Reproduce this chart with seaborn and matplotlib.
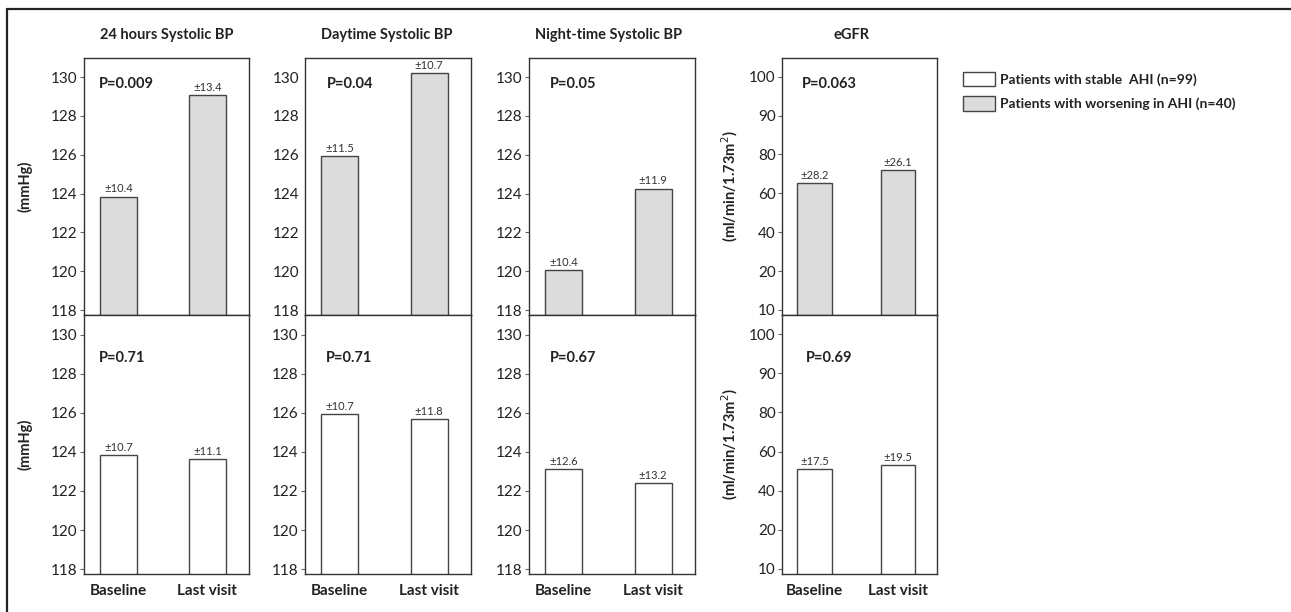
import numpy as np
import pandas as pd
import matplotlib
matplotlib.use("Agg")
import matplotlib.pyplot as plt
from matplotlib.patches import Patch
from matplotlib.lines import Line2D
import seaborn as sns

sns.set_style("white")
plt.rcParams['font.family'] = ['Lato', 'DejaVu Sans']

# ---------------- data ----------------
categories = ['Baseline', 'Last visit']
panel_titles = ['24 hours Systolic BP', 'Daytime Systolic BP', 'Night-time Systolic BP', 'eGFR']

worse_24h = [123.85, 129.1]
worse_day = [125.95, 130.2]
worse_night = [120.08, 124.26]
worse_egfr = [65.1, 71.8]
worse_sd_24h = [10.4, 13.4]
worse_sd_day = [11.5, 10.7]
worse_sd_night = [10.4, 11.9]
worse_sd_egfr = [28.2, 26.1]
worse_p = ['P=0.009', 'P=0.04', 'P=0.05', 'P=0.063']

stable_24h = [123.85, 123.64]
stable_day = [125.92, 125.68]
stable_night = [123.1, 122.4]
stable_egfr = [51.0, 53.3]
stable_sd_24h = [10.7, 11.1]
stable_sd_day = [10.7, 11.8]
stable_sd_night = [12.6, 13.2]
stable_sd_egfr = [17.5, 19.5]
stable_p = ['P=0.71', 'P=0.71', 'P=0.67', 'P=0.69']

bp_ticks = [118, 120, 122, 124, 126, 128, 130]
egfr_ticks = [10, 20, 40, 60, 80, 90, 100]

legend_labels = ['Patients with stable  AHI (n=99)', 'Patients with worsening in AHI (n=40)']
ylabel_bp = '(mmHg)'
ylabel_egfr = '(ml/min/1.73m$^{2}$)'

# ---------------- style ----------------
GRAY = '#dcdcdc'
EDGE = '#444444'
TXT = '#222222'

W, H = 1291, 612
fig = plt.figure(figsize=(W / 100, H / 100), dpi=100)

col_left = [84, 305, 529, 782]
col_width = [165, 166, 166, 155]
row_top = [57.7, 315]
row_bot = [315, 574]

worse_vals = [worse_24h, worse_day, worse_night, worse_egfr]
worse_sds = [worse_sd_24h, worse_sd_day, worse_sd_night, worse_sd_egfr]
stable_vals = [stable_24h, stable_day, stable_night, stable_egfr]
stable_sds = [stable_sd_24h, stable_sd_day, stable_sd_night, stable_sd_egfr]

# piecewise scale for eGFR (evenly spaced labelled ticks)
e_vals = np.array([0, 10, 20, 40, 60, 80, 90, 100, 110], dtype=float)
e_pos = np.array([-1, 0, 1, 2, 3, 4, 5, 6, 7], dtype=float)

def fwd(v):
    return np.interp(v, e_vals, e_pos)

def inv(p):
    return np.interp(p, e_pos, e_vals)

p_x_top = [0.09, 0.13, 0.125, 0.13]
p_x_bot = [0.093, 0.127, 0.125, 0.157]
title_x = [0.5, 0.49, 0.48, 0.45]

for r in range(2):
    for c in range(4):
        left = col_left[c] / W
        width = col_width[c] / W
        bottom = 1 - row_bot[r] / H
        height = (row_bot[r] - row_top[r]) / H
        ax = fig.add_axes([left, bottom, width, height])
        vals = worse_vals[c] if r == 0 else stable_vals[c]
        sds = worse_sds[c] if r == 0 else stable_sds[c]
        color = GRAY if r == 0 else 'white'
        df = pd.DataFrame({'visit': categories, 'value': vals})
        sns.barplot(data=df, x='visit', y='value', ax=ax, color=color,
                    edgecolor=EDGE, linewidth=1.0, width=0.415, saturation=1)
        ax.set_xlim(-0.39, 1.47)
        if c < 3:
            ax.set_ylim(117.75, 131.0)
            ax.set_yticks(bp_ticks)
        else:
            ax.set_yscale('function', functions=(fwd, inv))
            ax.set_ylim(8.7, 104.9)
            ax.set_yticks(egfr_ticks)
            ax.set_yticklabels([str(t) for t in egfr_ticks])
            ax.yaxis.set_minor_locator(matplotlib.ticker.NullLocator())
        ax.tick_params(axis='y', which='major', left=True, length=3, width=0.8,
                       color='#666666', labelsize=11, labelcolor=TXT, pad=1.5)
        if r == 0 and c == 1:
            ax.tick_params(axis='y', length=0, pad=4)
        ax.set_xlabel('')
        ax.set_ylabel('')
        if r == 1:
            ax.set_xticks([0, 1])
            ax.set_xticklabels(categories, fontsize=11, fontweight='bold', color=TXT)
            ax.tick_params(axis='x', length=0, pad=7)
        else:
            ax.set_xticks([])
        for s in ax.spines.values():
            s.set_visible(True)
            s.set_color('#333333')
            s.set_linewidth(1.0)
        # SD labels
        for i, (v, sd) in enumerate(zip(vals, sds)):
            ax.annotate(f'±{sd}', (i, v), xytext=(0, 1.5), textcoords='offset points',
                        ha='center', va='bottom', fontsize=8, color='#333333')
        ptxt = worse_p[c] if r == 0 else stable_p[c]
        px = p_x_top[c] if r == 0 else p_x_bot[c]
        py = 0.898 if r == 0 else 0.835
        ax.text(px, py, ptxt, transform=ax.transAxes, ha='left', va='center',
                fontsize=10.5, fontweight='bold', color=TXT)
        if r == 0:
            ax.text(title_x[c], 1.088, panel_titles[c], transform=ax.transAxes,
                    ha='center', va='center', fontsize=10.5, fontweight='bold', color=TXT)
        if c == 0:
            ax.set_ylabel(ylabel_bp, fontsize=10.5, fontweight='bold', color=TXT)
            ax.yaxis.set_label_coords(-0.31, 0.5)
        if c == 3:
            ax.set_ylabel(ylabel_egfr, fontsize=10.5, fontweight='bold', color=TXT)
            ax.yaxis.set_label_coords(-0.27, 0.5)

# legend
handles = [Patch(facecolor='white', edgecolor=EDGE, linewidth=1.0),
           Patch(facecolor=GRAY, edgecolor=EDGE, linewidth=1.0)]
leg = fig.legend(handles, legend_labels, loc='upper left',
                 bbox_to_anchor=(963 / W, 1 - 71.7 / H), frameon=False,
                 borderpad=0, borderaxespad=0, handlelength=2.3, handleheight=1.25,
                 labelspacing=0.7, handletextpad=0.35,
                 prop={'size': 10, 'weight': 'bold'})
for t in leg.get_texts():
    t.set_color(TXT)

# outer frame lines (top and left)
fig.add_artist(Line2D([7 / W, 1], [1 - 9 / H, 1 - 9 / H], color='#222222', lw=1.6))
fig.add_artist(Line2D([7 / W, 7 / W], [0, 1 - 9 / H], color='#222222', lw=1.6))

fig.savefig('out.png', dpi=100)
